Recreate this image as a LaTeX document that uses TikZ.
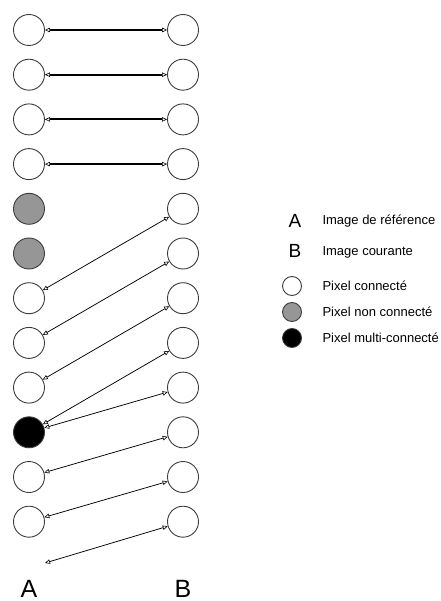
\documentclass[tikz,border=0pt]{standalone}
\usepackage{fontspec}
\setmainfont{Liberation Sans}
\usetikzlibrary{positioning,arrows.meta}

\definecolor{pixgray}{RGB}{150,150,150}
\definecolor{pixline}{RGB}{60,60,60}

\begin{document}
\begin{tikzpicture}[x=1pt, y=-1pt, node distance=44.7pt, on grid,
    >={Triangle[open, length=5pt, width=4.5pt, line width=0.6pt]},
    pix/.style={circle, draw=pixline, line width=0.9pt, minimum size=31pt, inner sep=0pt},
    conn/.style={pix, fill=white},
    nonconn/.style={pix, fill=pixgray},
    multi/.style={pix, fill=black},
    link/.style={<->, line width=0.75pt},
    match/.style={link, line width=2pt},
    col/.style={anchor=base, inner sep=0pt, font=\fontsize{25}{28}\selectfont},
    key/.style={pix, minimum size=19pt},
    keytext/.style={anchor=west, font=\fontsize{13}{15}\selectfont}]
  \useasboundingbox (0,0) rectangle (440,601);

  % column A: reference image
  \node[conn] (a1) at (29,30) {};
  \node[conn] (a2) [below=of a1] {};
  \node[conn] (a3) [below=of a2] {};
  \node[conn] (a4) [below=of a3] {};
  \node[nonconn] (a5) [below=of a4] {};
  \node[nonconn] (a6) [below=of a5] {};
  \node[conn] (a7) [below=of a6] {};
  \node[conn] (a8) [below=of a7] {};
  \node[conn] (a9) [below=of a8] {};
  \node[multi] (a10) [below=of a9] {};
  \node[conn] (a11) [below=of a10] {};
  \node[conn] (a12) [below=of a11] {};
  \coordinate (a13) at (45,563);

  % column B: current image
  \node[conn] (b1) at (183,30) {};
  \node[conn] (b2) [below=of b1] {};
  \node[conn] (b3) [below=of b2] {};
  \node[conn] (b4) [below=of b3] {};
  \node[conn] (b5) [below=of b4] {};
  \node[conn] (b6) [below=of b5] {};
  \node[conn] (b7) [below=of b6] {};
  \node[conn] (b8) [below=of b7] {};
  \node[conn] (b9) [below=of b8] {};
  \node[conn] (b10) [below=of b9] {};
  \node[conn] (b11) [below=of b10] {};
  \node[conn] (b12) [below=of b11] {};

  \node[col] (labA) at (29,597) {A};
  \node[col] (labB) at (183,597) {B};

  % matches
  \path[match]
    (a1) edge (b1)
    (a2) edge (b2)
    (a3) edge (b3)
    (a4) edge (b4);
  \path[link]
    (b5) edge (a7)
    (b6) edge (a8)
    (b7) edge (a9)
    (b8) edge (a10)
    (b9) edge (a10)
    (b10) edge (a11)
    (b11) edge (a12)
    (b12) edge (a13);

  % legend
  \node[font=\fontsize{19}{22}\selectfont] (kA) at (295,221) {A};
  \node[font=\fontsize{19}{22}\selectfont] (kB) at (295,251) {B};
  \node[key, fill=white] (kc) at (292,286) {};
  \node[key, fill=pixgray] (kn) at (292,312) {};
  \node[key, fill=black] (km) at (292,338) {};
  \node[keytext] at (319,221) {Image de référence};
  \node[keytext] at (319,252) {Image courante};
  \node[keytext] at (319,286) {Pixel connecté};
  \node[keytext] at (319,312) {Pixel non connecté};
  \node[keytext] at (319,338) {Pixel multi-connecté};
\end{tikzpicture}
\end{document}
